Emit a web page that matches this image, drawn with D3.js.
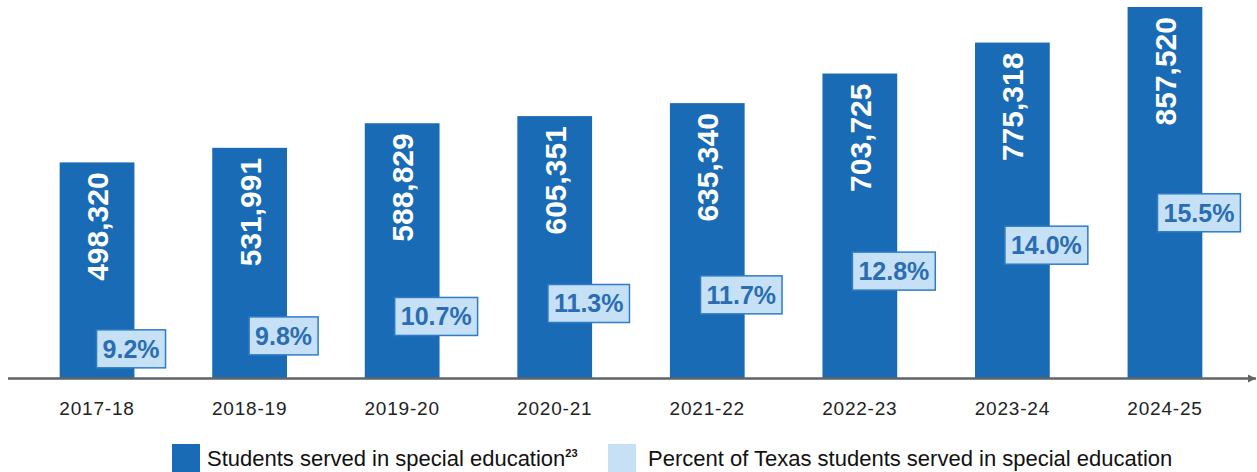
<!DOCTYPE html>
<html>
  <head>
    <meta charset="utf-8">
    <title>Special education enrollment</title>
    <script src="https://d3js.org/d3.v7.min.js"></script>
    <style>
      body { margin: 0; background: #fff; }
      svg { display: block; }
      .year { font: 19px "Liberation Sans", Arial, sans-serif; fill: #222; letter-spacing: 0.8px; }
      .count { font: bold 30px "Liberation Sans", Arial, sans-serif; fill: #fff; }
      .pct { font: bold 25px "Liberation Sans", Arial, sans-serif; fill: #2a6db3; }
      .legend text { font: 22px "Liberation Sans", Arial, sans-serif; fill: #111; }
    </style>
  </head>
  <body>
    <div id="chart"></div>
    <script>
      const years = ["2017-18", "2018-19", "2019-20", "2020-21", "2021-22", "2022-23", "2023-24", "2024-25"];
      const students = [498320, 531991, 588829, 605351, 635340, 703725, 775318, 857520];
      const percents = [9.2, 9.8, 10.7, 11.3, 11.7, 12.8, 14.0, 15.5];

      const width = 1257, height = 472,
        barColor = "#1a6bb5", lightColor = "#c6e0f5";

      const svg = d3.select("#chart").append("svg")
        .attr("width", width)
        .attr("height", height);

      const x = d3.scaleBand()
        .domain(years)
        .range([20, 1242])
        .paddingInner(0.51)
        .paddingOuter(0.26);

      const y = d3.scaleLinear()
        .domain([0, 857520])
        .range([378, 7]);

      // secondary axis for the percentages (not drawn)
      const y2 = d3.scaleLinear()
        .domain([7.85, 25.03])
        .range([378, 7]);

      svg.append("g").selectAll("rect")
        .data(students)
        .join("rect")
        .attr("x", (d, i) => x(years[i]))
        .attr("y", d => y(d))
        .attr("width", x.bandwidth())
        .attr("height", d => y(0) - y(d))
        .attr("fill", barColor);

      svg.append("g").selectAll("text")
        .data(students)
        .join("text")
        .attr("class", "count")
        .attr("text-anchor", "end")
        .attr("transform", (d, i) => {
          const cx = x(years[i]) + x.bandwidth() / 2 + 11;
          return "translate(" + cx + "," + (y(d) + 10) + ") rotate(-90)";
        })
        .text(d => d3.format(",")(d));

      // axis line with arrow
      svg.append("defs").append("marker")
        .attr("id", "arrow")
        .attr("viewBox", "0 0 10 10")
        .attr("refX", 10).attr("refY", 5)
        .attr("markerWidth", 3.2).attr("markerHeight", 3.2)
        .attr("markerUnits", "strokeWidth")
        .attr("orient", "auto")
        .append("path")
        .attr("d", "M0,0L10,5L0,10Z")
        .attr("fill", "#5f6469");

      svg.append("line")
        .attr("x1", 8).attr("x2", 1256)
        .attr("y1", 378.5).attr("y2", 378.5)
        .attr("stroke", "#5f6469")
        .attr("stroke-width", 2.6)
        .attr("marker-end", "url(#arrow)");

      svg.append("g").selectAll("text")
        .data(years)
        .join("text")
        .attr("class", "year")
        .attr("text-anchor", "middle")
        .attr("x", d => x(d) + x.bandwidth() / 2)
        .attr("y", 415)
        .text(d => d);

      // percentage labels, centred a little right of each bar centre
      const pg = svg.append("g").selectAll("g")
        .data(percents)
        .join("g")
        .attr("transform", (d, i) => "translate(" + (x(years[i]) + x.bandwidth() / 2 + 34) + "," + y2(d) + ")");

      pg.append("text")
        .attr("class", "pct")
        .attr("text-anchor", "middle")
        .attr("y", 9)
        .text(d => d.toFixed(1) + "%");

      pg.insert("rect", "text")
        .each(function () {
          const t = d3.select(this.parentNode).select("text").node().getBBox();
          d3.select(this)
            .attr("x", -(t.width + 12) / 2)
            .attr("y", -19)
            .attr("width", t.width + 12)
            .attr("height", 38);
        })
        .attr("fill", lightColor)
        .attr("stroke", "#2f7cc6")
        .attr("stroke-width", 1.5);

      // legend
      const legend = svg.append("g").attr("class", "legend");
      legend.append("rect")
        .attr("x", 172).attr("y", 444).attr("width", 28).attr("height", 28)
        .attr("fill", barColor);
      const t1 = legend.append("text").attr("x", 207).attr("y", 466);
      t1.append("tspan").text("Students served in special education");
      t1.append("tspan").attr("font-size", 11).attr("font-weight", "bold").attr("dy", -9).text("23");
      legend.append("rect")
        .attr("x", 608).attr("y", 444).attr("width", 28).attr("height", 28)
        .attr("fill", lightColor);
      legend.append("text").attr("x", 648).attr("y", 466)
        .text("Percent of Texas students served in special education");
    </script>
  </body>
</html>
